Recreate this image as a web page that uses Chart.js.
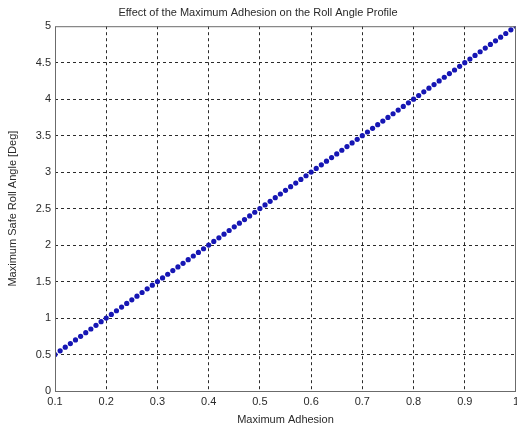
<!DOCTYPE html>
<html>
<head>
<meta charset="utf-8">
<script src="https://cdn.jsdelivr.net/npm/chart.js@4/dist/chart.umd.min.js"></script>
<style>
  html, body { margin: 0; padding: 0; background: #fff; }
  #wrap { width: 517px; height: 430px; }
</style>
</head>
<body>
<div id="wrap"><canvas id="adhesion-chart" width="517" height="430"></canvas></div>
<script>
// maximum adhesion (x) vs maximum safe roll angle in degrees (y)
const adhesion = [
  0.10, 0.11, 0.12, 0.13, 0.14, 0.15, 0.16, 0.17, 0.18, 0.19,
  0.20, 0.21, 0.22, 0.23, 0.24, 0.25, 0.26, 0.27, 0.28, 0.29,
  0.30, 0.31, 0.32, 0.33, 0.34, 0.35, 0.36, 0.37, 0.38, 0.39,
  0.40, 0.41, 0.42, 0.43, 0.44, 0.45, 0.46, 0.47, 0.48, 0.49,
  0.50, 0.51, 0.52, 0.53, 0.54, 0.55, 0.56, 0.57, 0.58, 0.59,
  0.60, 0.61, 0.62, 0.63, 0.64, 0.65, 0.66, 0.67, 0.68, 0.69,
  0.70, 0.71, 0.72, 0.73, 0.74, 0.75, 0.76, 0.77, 0.78, 0.79,
  0.80, 0.81, 0.82, 0.83, 0.84, 0.85, 0.86, 0.87, 0.88, 0.89,
  0.90, 0.91, 0.92, 0.93, 0.94, 0.95, 0.96, 0.97, 0.98, 0.99,
  1.00
];
const rollAngle = [
  0.50, 0.55, 0.60, 0.65, 0.70, 0.75, 0.80, 0.85, 0.90, 0.95,
  1.00, 1.05, 1.10, 1.15, 1.20, 1.25, 1.30, 1.35, 1.40, 1.45,
  1.50, 1.55, 1.60, 1.65, 1.70, 1.75, 1.80, 1.85, 1.90, 1.95,
  2.00, 2.05, 2.10, 2.15, 2.20, 2.25, 2.30, 2.35, 2.40, 2.45,
  2.50, 2.55, 2.60, 2.65, 2.70, 2.75, 2.80, 2.85, 2.90, 2.95,
  3.00, 3.05, 3.10, 3.15, 3.20, 3.25, 3.30, 3.35, 3.40, 3.45,
  3.50, 3.55, 3.60, 3.65, 3.70, 3.75, 3.80, 3.85, 3.90, 3.95,
  4.00, 4.05, 4.10, 4.15, 4.20, 4.25, 4.30, 4.35, 4.40, 4.45,
  4.50, 4.55, 4.60, 4.65, 4.70, 4.75, 4.80, 4.85, 4.90, 4.95,
  5.00
];
const xTicks = [0.1, 0.2, 0.3, 0.4, 0.5, 0.6, 0.7, 0.8, 0.9, 1];
const yTicks = [0, 0.5, 1, 1.5, 2, 2.5, 3, 3.5, 4, 4.5, 5];

const font = { family: '"Liberation Sans", Arial, sans-serif', size: 11 };
const textColor = '#2a2a2a';

const points = adhesion.map((x, i) => ({ x: x, y: rollAngle[i] }));

// matlab-ish box round the plot area
const boxPlugin = {
  id: 'box',
  afterDraw(chart) {
    const a = chart.chartArea;
    const c = chart.ctx;
    c.save();
    c.strokeStyle = '#6b6b6b';
    c.lineWidth = 1;
    c.strokeRect(a.left + 0.5, a.top + 0.5, a.right - a.left - 1, a.bottom - a.top);
    c.restore();
  }
};

// hide the grid line on the first and last tick, the box covers those
const gridColor = (ctx) => {
  const n = ctx.scale.ticks.length;
  return (ctx.index === 0 || ctx.index === n - 1) ? 'rgba(0,0,0,0)' : '#2b2b2b';
};

new Chart(document.getElementById('adhesion-chart').getContext('2d'), {
  type: 'scatter',
  data: {
    datasets: [{
      data: points,
      showLine: false,
      pointRadius: 2.6,
      pointHoverRadius: 2.6,
      pointBackgroundColor: '#1616b4',
      pointBorderColor: '#1616b4',
      pointBorderWidth: 0
    }]
  },
  options: {
    responsive: false,
    animation: false,
    layout: { autoPadding: false, padding: { left: 0, right: 1, top: 0, bottom: 0 } },
    plugins: {
      legend: { display: false },
      tooltip: { enabled: false },
      title: {
        display: true,
        text: 'Effect of the Maximum Adhesion on the Roll Angle Profile',
        color: textColor,
        font: { family: font.family, size: 11, weight: 'normal' },
        padding: { top: 6, bottom: 7 }
      }
    },
    scales: {
      x: {
        type: 'linear',
        min: 0.1,
        max: 1,
        afterBuildTicks: (s) => { s.ticks = xTicks.map(v => ({ value: v })); },
        afterFit: (s) => { s.height = 39; s.paddingLeft = 0; s.paddingRight = 0; },
        border: { display: false, dash: [3, 3] },
        grid: { color: gridColor, lineWidth: 1, drawTicks: false },
        ticks: {
          color: textColor,
          font: font,
          padding: 4,
          maxRotation: 0,
          autoSkip: false,
          callback: (v) => String(v)
        },
        title: {
          display: true,
          text: 'Maximum Adhesion',
          color: textColor,
          font: font,
          padding: { top: 0, bottom: 3 }
        }
      },
      y: {
        type: 'linear',
        min: 0,
        max: 5,
        afterBuildTicks: (s) => { s.ticks = yTicks.map(v => ({ value: v })); },
        afterFit: (s) => { s.width = 55; s.paddingTop = 0; s.paddingBottom = 0; },
        border: { display: false, dash: [3, 3] },
        grid: { color: gridColor, lineWidth: 1, drawTicks: false },
        ticks: {
          color: textColor,
          font: font,
          padding: 4,
          autoSkip: false,
          callback: (v) => String(v)
        },
        title: {
          display: true,
          text: 'Maximum Safe Roll Angle [Deg]',
          color: textColor,
          font: font,
          padding: { top: 6, bottom: 0 }
        }
      }
    }
  },
  plugins: [boxPlugin]
});
</script>
</body>
</html>
